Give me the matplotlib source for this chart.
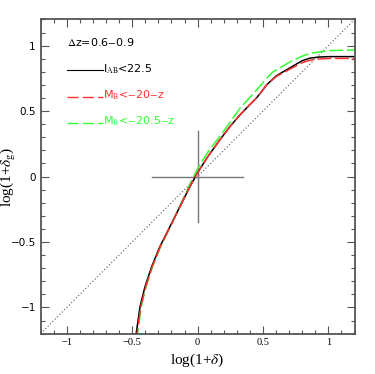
import matplotlib
matplotlib.use("Agg")
import matplotlib.pyplot as plt
from matplotlib.ticker import MultipleLocator

plt.rcParams["mathtext.fontset"] = "stix"

# curves
x_iab = [-0.49, -0.47, -0.44, -0.402, -0.351, -0.288, -0.211, -0.135, -0.05, 0.0,
         0.08, 0.17, 0.25, 0.323, 0.40, 0.45, 0.49, 0.527, 0.603, 0.705, 0.80,
         0.858, 0.93, 1.01, 1.2]
y_iab = [-1.26, -1.2, -0.992, -0.84, -0.687, -0.534, -0.382, -0.229, -0.06, 0.03,
         0.155, 0.28, 0.385, 0.47, 0.55, 0.60, 0.65, 0.70, 0.77, 0.83, 0.885,
         0.904, 0.913, 0.916, 0.916]

x_mb20 = [-0.482, -0.463, -0.434, -0.397, -0.347, -0.285, -0.209, -0.134, -0.05, 0.0,
          0.08, 0.17, 0.25, 0.323, 0.40, 0.45, 0.49, 0.527, 0.603, 0.705, 0.80,
          0.858, 0.93, 1.01, 1.2]
y_mb20 = [-1.26, -1.2, -0.992, -0.84, -0.687, -0.534, -0.382, -0.229, -0.06, 0.03,
          0.155, 0.28, 0.385, 0.47, 0.55, 0.60, 0.65, 0.70, 0.765, 0.82, 0.87,
          0.888, 0.898, 0.902, 0.902]

x_mb205 = [-0.478, -0.46, -0.431, -0.394, -0.344, -0.283, -0.208, -0.135, -0.05, 0.0,
           0.08, 0.195, 0.323, 0.45, 0.527, 0.577, 0.705, 0.80, 0.858, 0.93,
           1.01, 1.2]
y_mb205 = [-1.26, -1.2, -0.992, -0.84, -0.687, -0.534, -0.382, -0.225, -0.04, 0.06,
           0.19, 0.34, 0.52, 0.66, 0.75, 0.80, 0.875, 0.92, 0.94, 0.952,
           0.962, 0.967]

ref_line = [-1.2, 1.2]
cross_x = [-0.35, 0.35]
cross_y = [-0.35, 0.35]

fig = plt.figure(figsize=(3.75, 3.74), dpi=100)
ax = fig.add_axes([0.1085, 0.108, 0.837, 0.84])

ax.plot(ref_line, ref_line, color="#555555", lw=0.8, ls=(0, (1, 2)))
ax.plot(cross_x, [0, 0], color="#777777", lw=1.0)
ax.plot([0, 0], cross_y, color="#777777", lw=1.0)

ax.plot(x_mb205, y_mb205, color="#33ff33", lw=1.1, ls=(0, (9, 2.5)))
ax.plot(x_iab, y_iab, color="black", lw=1.1)
ax.plot(x_mb20, y_mb20, color="#ff3030", lw=1.1, ls=(0, (9, 2.5)))

# legend drawn by hand, as in the original
ax.text(-1.0, 1.03, r"$\Delta$z=0.6$-$0.9", fontsize=8, va="center",
        family="DejaVu Sans")
ax.plot([-1.0, -0.72], [0.81, 0.81], color="black", lw=0.8)
ax.text(-0.72, 0.82, r"I$_{\rm AB}$<22.5", fontsize=8, va="center",
        family="DejaVu Sans")
ax.plot([-1.0, -0.72], [0.61, 0.61], color="#ff3030", lw=1.0, ls=(0, (8, 3)))
ax.text(-0.72, 0.62, r"M$_{\rm B}$<$-$20$-$z", fontsize=8, va="center",
        color="#ff3030", family="DejaVu Sans")
ax.plot([-1.0, -0.72], [0.41, 0.41], color="#33ff33", lw=1.0, ls=(0, (8, 3)))
ax.text(-0.72, 0.42, r"M$_{\rm B}$<$-$20.5$-$z", fontsize=8, va="center",
        color="#33ff33", family="DejaVu Sans")

ax.set_xlim(-1.2, 1.2)
ax.set_ylim(-1.2, 1.2)
ax.xaxis.set_minor_locator(MultipleLocator(0.1))
ax.yaxis.set_minor_locator(MultipleLocator(0.1))
ax.tick_params(which="both", direction="in", top=True, right=True,
               color="#555555", labelsize=7.5)
ax.tick_params(which="major", length=6, width=0.8)
ax.tick_params(which="minor", length=3, width=0.8)
ax.set_xticks([-1, -0.5, 0, 0.5, 1])
ax.set_xticklabels(["\u22121", "\u22120.5", "0", "0.5", "1"], family="Liberation Serif")
ax.set_yticks([-1, -0.5, 0, 0.5, 1])
ax.set_yticklabels(["\u22121", "\u22120.5", "0", "0.5", "1"])
for s in ax.spines.values():
    s.set_color("#555555")
    s.set_linewidth(1.3)

ax.set_xlabel(r"log(1+$\delta$)", fontsize=11, family="Liberation Serif")
ax.set_ylabel(r"log(1+$\delta_{\rm g}$)", fontsize=11, family="Liberation Serif")
ax.xaxis.set_label_coords(0.5, -0.058)
ax.yaxis.set_label_coords(-0.072, 0.5)

fig.savefig("out.png", dpi=100)
